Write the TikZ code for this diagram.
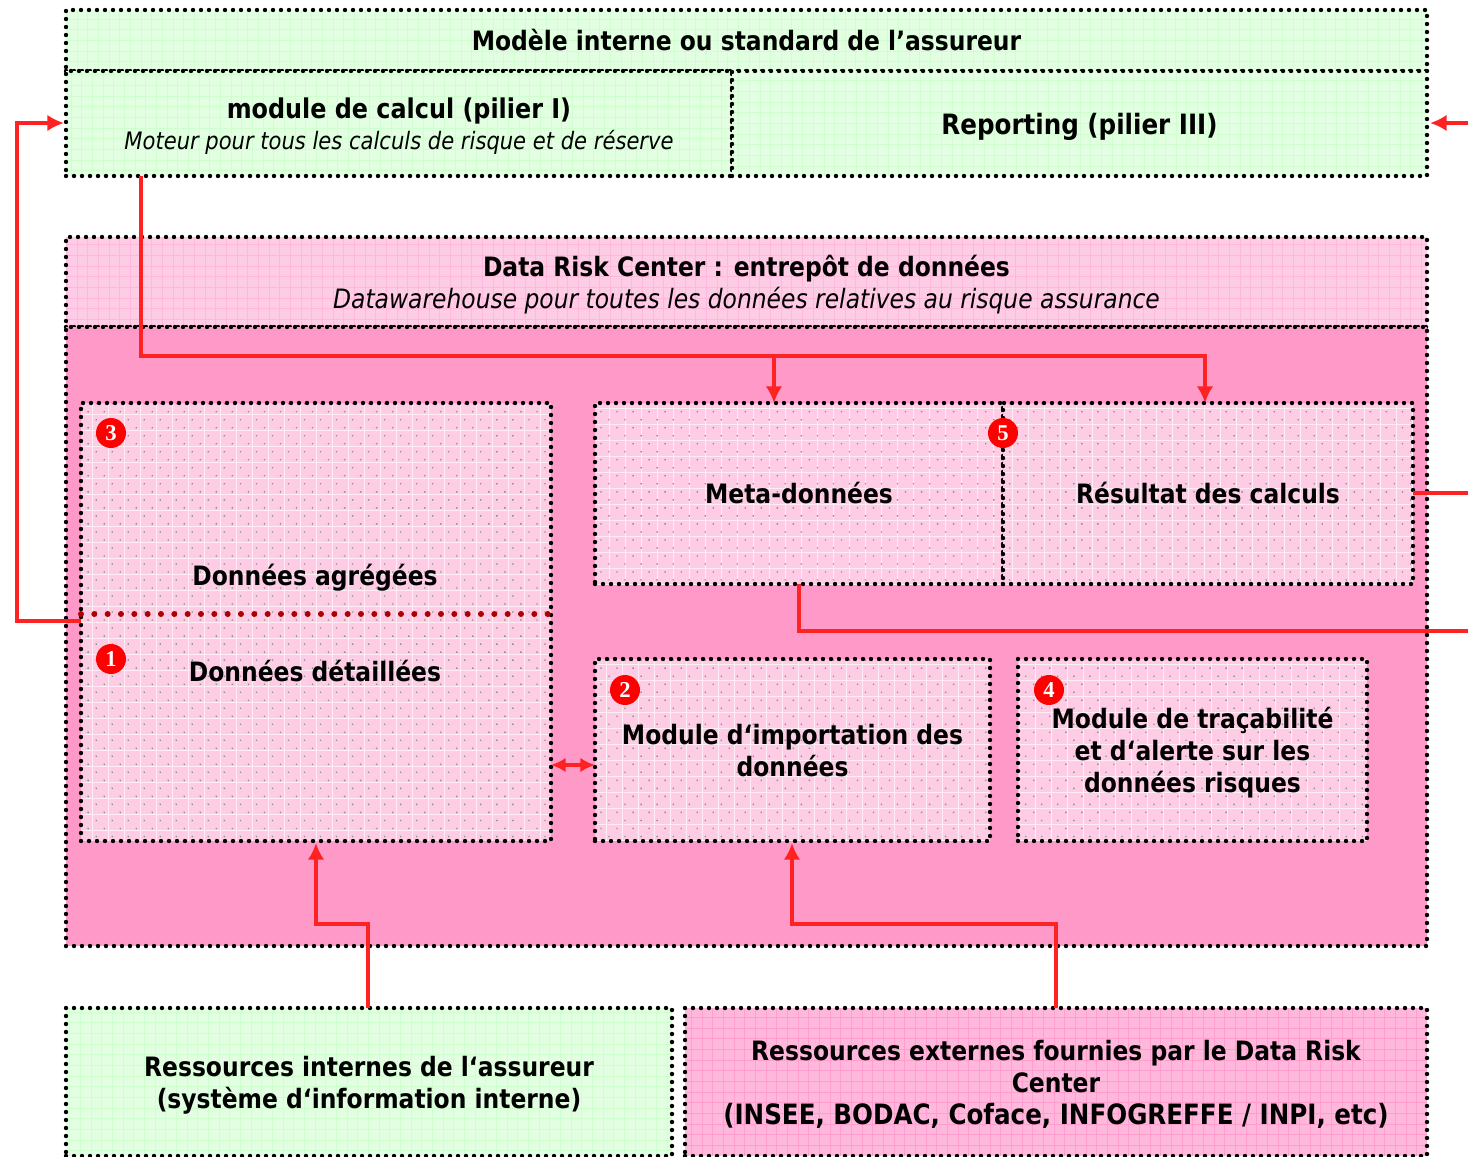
\documentclass[tikz,border=0pt]{standalone}
\usepackage{fontspec}
\setmainfont[FakeStretch=0.976]{DejaVu Sans Condensed}
\newfontfamily\badgefont{Liberation Serif}
\usetikzlibrary{arrows.meta,patterns.meta,positioning}
\definecolor{mintfill}{HTML}{E2FFE2}
\definecolor{mintline}{HTML}{CFFFCF}
\definecolor{rosefill}{HTML}{FFCCE6}
\definecolor{rosedeep}{HTML}{FF99C8}
\definecolor{rosemid}{HTML}{FFB8DC}
\definecolor{roseline}{HTML}{FF9FCF}
\definecolor{arrowred}{HTML}{FF2222}
\definecolor{sepred}{HTML}{AA0000}
\def\px{0.75pt}
\newcommand{\subtext}[2][18]{{\fontsize{#1}{24}\selectfont\mdseries\itshape #2}}
\newcommand{\wider}[1]{{\fontsize{21}{24}\selectfont #1}}
\begin{document}
\begin{tikzpicture}[
		x=0.75pt,y=-0.75pt,
		every node/.style={outer sep=0pt,inner sep=0pt,align=center,font=\fontsize{20}{24}\selectfont\bfseries},
		size/.style 2 args={minimum width=#1*\px,minimum height=#2*\px},
		textdrop/.style={text depth=#1},
		dotted box/.style={draw,line width=3.3pt,dash pattern=on 0pt off 6pt,line cap=round,anchor=north west},
		meshed/.style n args={3}{fill=#1,path picture={
				\draw[#2,line width=.5pt,solid,step=#3] (path picture bounding box.south west) grid (path picture bounding box.north east);}},
		mint/.style={dotted box,meshed={mintfill}{mintline}{8pt}},
		rosehead/.style={dotted box,meshed={rosefill}{rosemid}{8pt}},
		rosebody/.style={dotted box,fill=rosedeep},
		rosestrong/.style={dotted box,meshed={rosemid}{roseline}{8pt}},
		inner/.style={dotted box,fill=rosefill,path picture={
				\draw[rosefill!35!white,line width=.5pt,solid,step=12pt] (path picture bounding box.south west) grid (path picture bounding box.north east);
				\path[pattern={Dots[angle=45,distance=8.5pt,radius=.7pt]},pattern color=black!45] (path picture bounding box.south west) rectangle (path picture bounding box.north east);}},
		badge/.style={circle,fill=red,text=white,minimum size=22.5pt,text depth=0pt,font=\fontsize{17}{17}\selectfont\bfseries\badgefont},
		wire/.style={draw=arrowred,line width=3pt},
		tip/.style={-{Latex[length=12.5pt,width=12.5pt]}}
		]
		\useasboundingbox (0,0) rectangle (1468,1157);
		
		% green block on top
		\node[mint,size={1361}{61}] (title) at (66,10) {Modèle interne ou standard de l’assureur};
		\node[mint,size={666}{105},textdrop=-1.5pt] (calcul) at (66,71) {{\fontsize{20.4}{24}\selectfont module de calcul (pilier I)}\\[-1pt]\subtext{Moteur pour tous les calculs de risque et de réserve}};
		\node[mint,size={695}{105},textdrop=0pt,right=0pt of calcul.north east,anchor=north west] (reporting) {\wider{Reporting (pilier III)}};
		
		% data risk center
		\node[rosehead,size={1361}{90},textdrop=0pt] (center) at (66,237) {Data Risk Center : entrepôt de données\\\subtext[20]{Datawarehouse pour toutes les données relatives au risque assurance}};
		\node[rosebody,size={1361}{619},below=0pt of center.south west,anchor=north west] (body) {};
		
		% boxes in the center
		\node[inner,size={470}{438}] (stock) at (81,403) {};
		\node[textdrop=0pt] (agregtext) at (315,575) {Données agrégées};
		\node (detailtext) at (315,671) {Données détaillées};
		\node[inner,size={408}{181}] (meta) at (595,403) {Meta-données};
		\node[inner,size={410}{181},right=0pt of meta.north east,anchor=north west] (resultat) {Résultat des calculs};
		\node[inner,size={395}{182},textdrop=-4pt] (import) at (595,659) {Module d‘importation des\\données};
		\node[inner,size={349}{182},textdrop=-4pt] (trace) at (1018,659) {Module de traçabilité\\et d‘alerte sur les\\données risques};
		\coordinate (sepA) at (81,614);
		\coordinate (sepB) at (551,614);
		\draw[sepred,line width=4.5pt,dash pattern=on 0pt off 10pt,line cap=round] (sepA) -- (sepB);
		
		% resources
		\node[mint,size={606}{148},textdrop=-4pt] (internes) at (66,1008) {Ressources internes de l‘assureur\\(système d‘information interne)};
		\node[rosestrong,size={742}{148},textdrop=-4pt] (externes) at (685,1008) {Ressources externes fournies par le Data Risk\\Center\\\wider{(INSEE, BODAC, Coface, INFOGREFFE / INPI, etc)}};
		
		% the badges
		\node[badge] (b3) at (111,433) {3};
		\node[badge] (b5) at (1003,433) {5};
		\node[badge] (b1) at (111,659) {1};
		\node[badge] (b2) at (625,690) {2};
		\node[badge] (b4) at (1049,690) {4};
		
		% free ends and branch points
		\coordinate (detailout) at (81,621);
		\coordinate (calculout) at (141,176);
		\coordinate (metain) at (774,403);
		\coordinate (resultatin) at (1205,403);
		\coordinate (metaout) at (799,584);
		\coordinate (edgeA) at (1468,123);
		\coordinate (edgeB) at (1468,493);
		\coordinate (edgeC) at (1468,631);
		\coordinate (detailin) at (316,843);
		\coordinate (importin) at (792,843);
		\coordinate (internesout) at (368,1008);
		\coordinate (externesout) at (1056,1008);
		
		% the arrows
		\draw[wire,tip] (detailout) -- (17,621) -- (17,123) -- (64,123);
		\draw[wire,tip] (calculout) -- (141,356) -- (774,356) -- (metain);
		\draw[wire,tip] (774,356) -- (1205,356) -- (resultatin);
		\draw[wire,tip] (edgeA) -- (1430,123);
		\draw[wire] (resultat.east |- edgeB) -- (edgeB);
		\draw[wire] (metaout) -- (799,631) -- (edgeC);
		\draw[wire,{Latex[length=11pt,width=11pt]}-{Latex[length=11pt,width=11pt]}] (stock.east |- 0,765) -- (import.west |- 0,765);
		\draw[wire,tip] (internesout) -- (368,924) -- (316,924) -- (detailin);
		\draw[wire,tip] (externesout) -- (1056,924) -- (792,924) -- (importin);
\end{tikzpicture}
\end{document}
